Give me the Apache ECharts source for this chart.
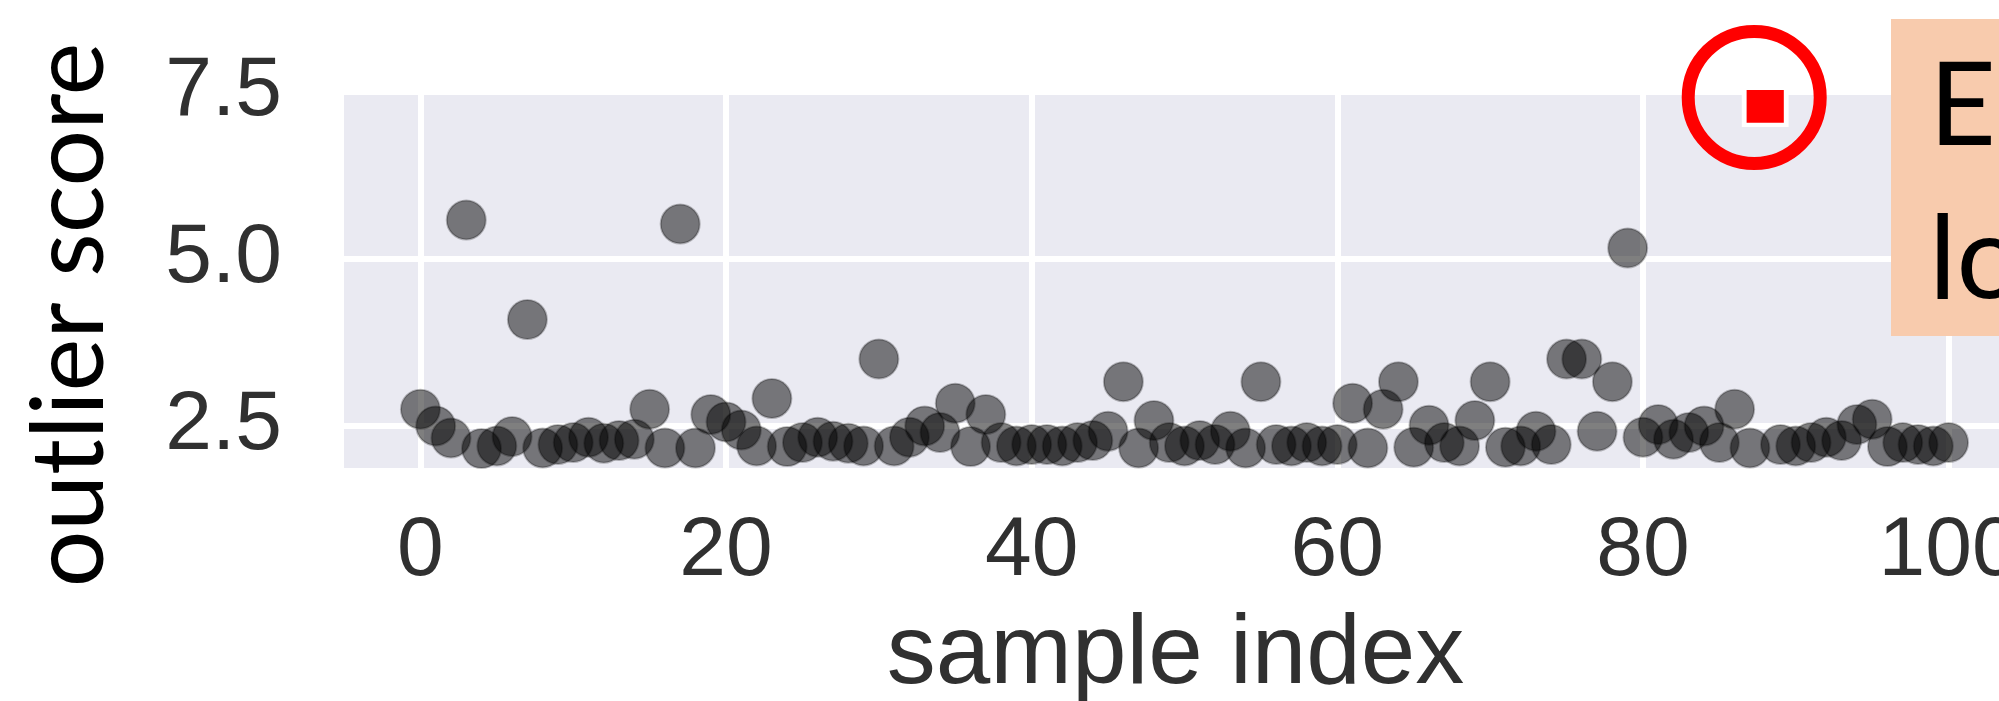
<!DOCTYPE html>
<html>
<head>
<meta charset="utf-8">
<script src="https://cdn.jsdelivr.net/npm/echarts@6/dist/echarts.min.js"></script>
<style>
html,body{margin:0;padding:0;background:#fff;}
#chart{width:1999px;height:701px;}
</style>
</head>
<body>
<div id="chart"></div>
<script>
// outlier score per sample, index = sample index (0..100)
var scores = [
  2.75, 2.50, 2.32, 5.58, 2.16, 2.20, 2.34, 4.09, 2.17, 2.22,
  2.25, 2.33, 2.24, 2.28, 2.30, 2.75, 2.17, 5.52, 2.17, 2.67,
  2.56, 2.44, 2.20, 2.91, 2.19, 2.25, 2.33, 2.27, 2.24, 2.20,
  3.50, 2.20, 2.33, 2.50, 2.40, 2.84, 2.19, 2.67, 2.25, 2.20,
  2.22, 2.22, 2.20, 2.25, 2.28, 2.42, 3.16, 2.17, 2.58, 2.25,
  2.20, 2.28, 2.22, 2.42, 2.17, 3.16, 2.22, 2.20, 2.25, 2.20,
  2.22, 2.84, 2.17, 2.75, 3.16, 2.18, 2.51, 2.25, 2.20, 2.58,
  3.16, 2.18, 2.20, 2.42, 2.22, 3.50, 3.50, 2.42, 3.16, 5.16,
  2.33, 2.52, 2.30, 2.40, 2.50, 2.25, 2.75, 2.17, 7.28, 2.22,
  2.20, 2.25, 2.33, 2.28, 2.52, 2.60, 2.19, 2.25, 2.22, 2.20,
  2.25
];
var highlightIdx = 88;           // the red, circled sample
var xTicks = [0, 20, 40, 60, 80, 100];
var yTicks = [2.5, 5.0, 7.5];
var yTitle = 'outlier score';
var xTitle = 'sample index';
var noteLines = ['Easily', 'located'];

var normalPts = [];
var redPts = [];
scores.forEach(function (v, i) {
  if (i === highlightIdx) redPts.push([i, v]);
  else normalPts.push([i, v]);
});

var tickFont = 'Liberation Sans';
var chart = echarts.init(document.getElementById('chart'));

chart.setOption({
  animation: false,
  grid: {
    left: 344, right: -26, top: 89, bottom: 233,
    show: true, backgroundColor: '#EAEAF2', borderWidth: 0,
    outerBoundsMode: 'none'
  },
  xAxis: {
    type: 'value', min: -5, max: 105,
    axisLine: {show: false},
    axisTick: {show: false, customValues: xTicks},
    axisLabel: {
      customValues: xTicks, margin: 42,
      fontFamily: tickFont, fontSize: 84, color: '#303030'
    },
    splitLine: {show: true, lineStyle: {color: '#ffffff', width: 6}},
    name: xTitle, nameLocation: 'middle', nameGap: 139,
    nameTextStyle: {fontFamily: tickFont, fontSize: 98, color: '#303030', padding: [0, 18, 0, 0]}
  },
  yAxis: {
    type: 'value', min: 1.87, max: 7.54,
    axisLine: {show: false},
    axisTick: {show: false, customValues: yTicks},
    axisLabel: {
      customValues: yTicks, margin: 62,
      fontFamily: tickFont, fontSize: 84, color: '#303030',
      formatter: function (v) { return v.toFixed(1); }
    },
    splitLine: {show: true, lineStyle: {color: '#ffffff', width: 6}}
  },
  series: [
    {
      type: 'scatter', data: normalPts, symbol: 'circle', symbolSize: 39,
      itemStyle: {color: 'rgba(0,0,0,0.5)', borderColor: 'rgba(0,0,0,0.25)', borderWidth: 2, opacity: 1},
      z: 3
    },
    {
      type: 'scatter', data: redPts, symbol: 'circle', symbolSize: 132,
      symbolOffset: [-11, -9],
      itemStyle: {color: 'rgba(0,0,0,0)', borderColor: '#FF0000', borderWidth: 13, opacity: 1},
      silent: true, z: 4
    },
    {
      type: 'scatter', data: redPts, symbol: 'rect', symbolSize: [42, 37],
      itemStyle: {color: '#FF0000', borderColor: '#ffffff', borderWidth: 4.5, opacity: 1},
      z: 5
    }
  ],
  graphic: [
    {
      type: 'text', x: 71, y: 315, rotation: Math.PI / 2, z: 100,
      style: {
        text: yTitle, font: '100px Lato', fill: '#000000',
        align: 'center', verticalAlign: 'middle'
      }
    },
    {
      type: 'rect', z: 100,
      shape: {x: 1891, y: 19, width: 200, height: 317},
      style: {fill: '#F8CBAD'}
    },
    {
      type: 'text', x: 1929, y: 31.5, z: 101,
      style: {
        text: noteLines.join('\n'), font: '116px Lato', fill: '#000000',
        lineHeight: 153, align: 'left', verticalAlign: 'top'
      }
    }
  ]
});
</script>
</body>
</html>
